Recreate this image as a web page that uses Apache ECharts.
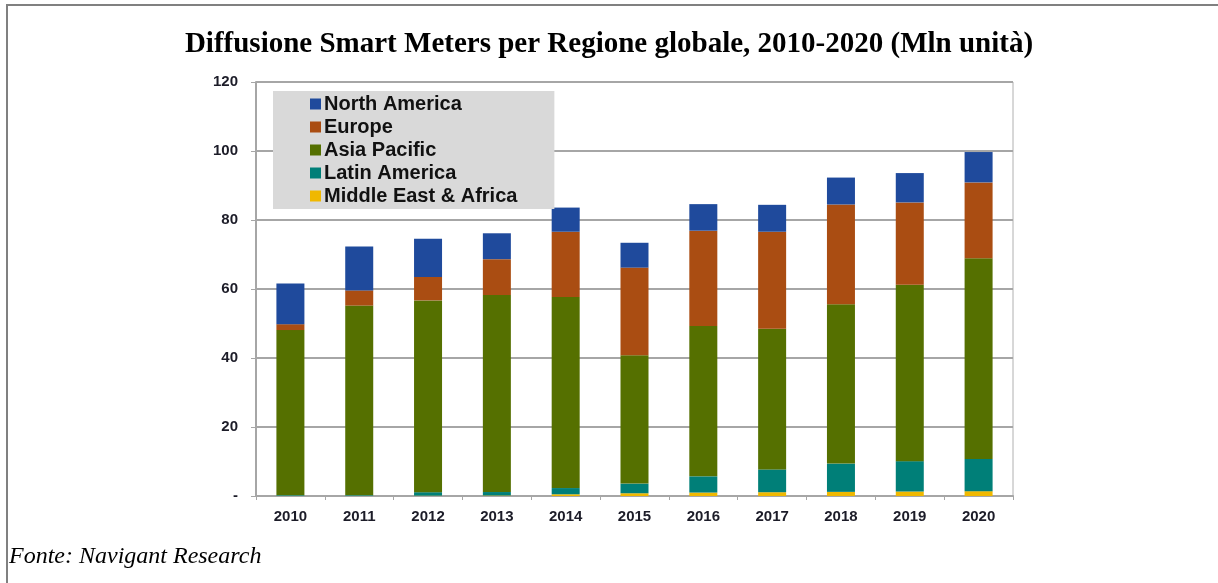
<!DOCTYPE html>
<html>
<head>
<meta charset="utf-8">
<script src="https://cdn.jsdelivr.net/npm/echarts@6/dist/echarts.min.js"></script>
<style>
  html, body { margin: 0; padding: 0; background: #fff; }
  #chart { width: 1218px; height: 583px; }
</style>
</head>
<body>
<div id="chart"></div>
<script>
var years = ['2010', '2011', '2012', '2013', '2014', '2015', '2016', '2017', '2018', '2019', '2020'];

// Mln units
var middleEastAfrica = [0.1, 0.1, 0.1, 0.15, 0.5, 0.8, 1.0, 1.1, 1.2, 1.3, 1.4];
var latinAmerica     = [0.2, 0.2, 1.0, 1.0, 1.8, 2.8, 4.7, 6.6, 8.2, 8.8, 9.3];
var asiaPacific      = [47.8, 54.9, 55.6, 57.1, 55.4, 37.2, 43.6, 40.8, 46.2, 51.1, 58.2];
var europe           = [1.7, 4.4, 6.8, 10.4, 18.9, 25.4, 27.6, 28.1, 28.9, 23.9, 22.0];
var northAmerica     = [11.8, 12.7, 11.1, 7.5, 7.0, 7.2, 7.7, 7.8, 7.8, 8.5, 8.8];

var legendOrder = ['North America', 'Europe', 'Asia Pacific', 'Latin America', 'Middle East & Africa'];

var chart = echarts.init(document.getElementById('chart'));

function bar(name, data, color) {
    return {
        name: name,
        type: 'bar',
        stack: 'tot',
        barWidth: 28,
        data: data,
        itemStyle: { color: color }
    };
}

var option = {
    animation: false,
    title: {
        text: 'Diffusione Smart Meters per Regione globale, 2010-2020 (Mln unità)',
        left: 'center',
        top: 25,
        textStyle: {
            fontFamily: 'Liberation Serif',
            fontWeight: 'bold',
            fontSize: 29,
            color: '#000'
        }
    },
    legend: {
        data: legendOrder,
        orient: 'vertical',
        left: 273,
        top: 91,
        icon: 'rect',
        itemWidth: 11,
        itemHeight: 11,
        itemGap: 3,
        padding: [3, 37, 3, 37],
        backgroundColor: '#d9d9d9',
        textStyle: {
            fontFamily: 'Liberation Sans',
            fontWeight: 'bold',
            fontSize: 20,
            color: '#111',
            padding: [0, 0, 0, -2]
        }
    },
    grid: {
        left: 256,
        right: 205,
        top: 82,
        bottom: 87,
        show: true,
        borderColor: '#b0b0b0',
        borderWidth: 1
    },
    xAxis: {
        type: 'category',
        data: years,
        axisLine: { lineStyle: { color: '#a6a6a6', width: 2 } },
        axisTick: { show: true, length: 4, lineStyle: { color: '#a6a6a6' } },
        axisLabel: {
            fontFamily: 'Liberation Sans',
            fontWeight: 'bold',
            fontSize: 15,
            color: '#1c1c28',
            margin: 13
        }
    },
    yAxis: {
        type: 'value',
        min: 0,
        max: 120,
        interval: 20,
        axisLine: { show: true, lineStyle: { color: '#a6a6a6', width: 2 } },
        axisTick: { show: true, length: 5, lineStyle: { color: '#a6a6a6' } },
        splitLine: { lineStyle: { color: '#a6a6a6', width: 2 } },
        axisLabel: {
            fontFamily: 'Liberation Sans',
            fontWeight: 'bold',
            fontSize: 15,
            color: '#1c1c28',
            margin: 18,
            formatter: function (v) { return v === 0 ? '-' : v; }
        }
    },
    graphic: [
        { type: 'line', shape: { x1: 6, y1: 5, x2: 1218, y2: 5 }, style: { stroke: '#808080', lineWidth: 2 } },
        { type: 'line', shape: { x1: 7, y1: 4, x2: 7, y2: 583 }, style: { stroke: '#808080', lineWidth: 2 } },
        {
            type: 'text', left: 9, top: 545,
            style: {
                text: 'Fonte: Navigant Research',
                font: 'italic 24px "Liberation Serif"',
                fill: '#000'
            }
        }
    ],
    series: [
        bar('Middle East & Africa', middleEastAfrica, '#f0b800'),
        bar('Latin America', latinAmerica, '#007f78'),
        bar('Asia Pacific', asiaPacific, '#557000'),
        bar('Europe', europe, '#aa4d12'),
        bar('North America', northAmerica, '#1f4a9c')
    ]
};

chart.setOption(option);
</script>
</body>
</html>
